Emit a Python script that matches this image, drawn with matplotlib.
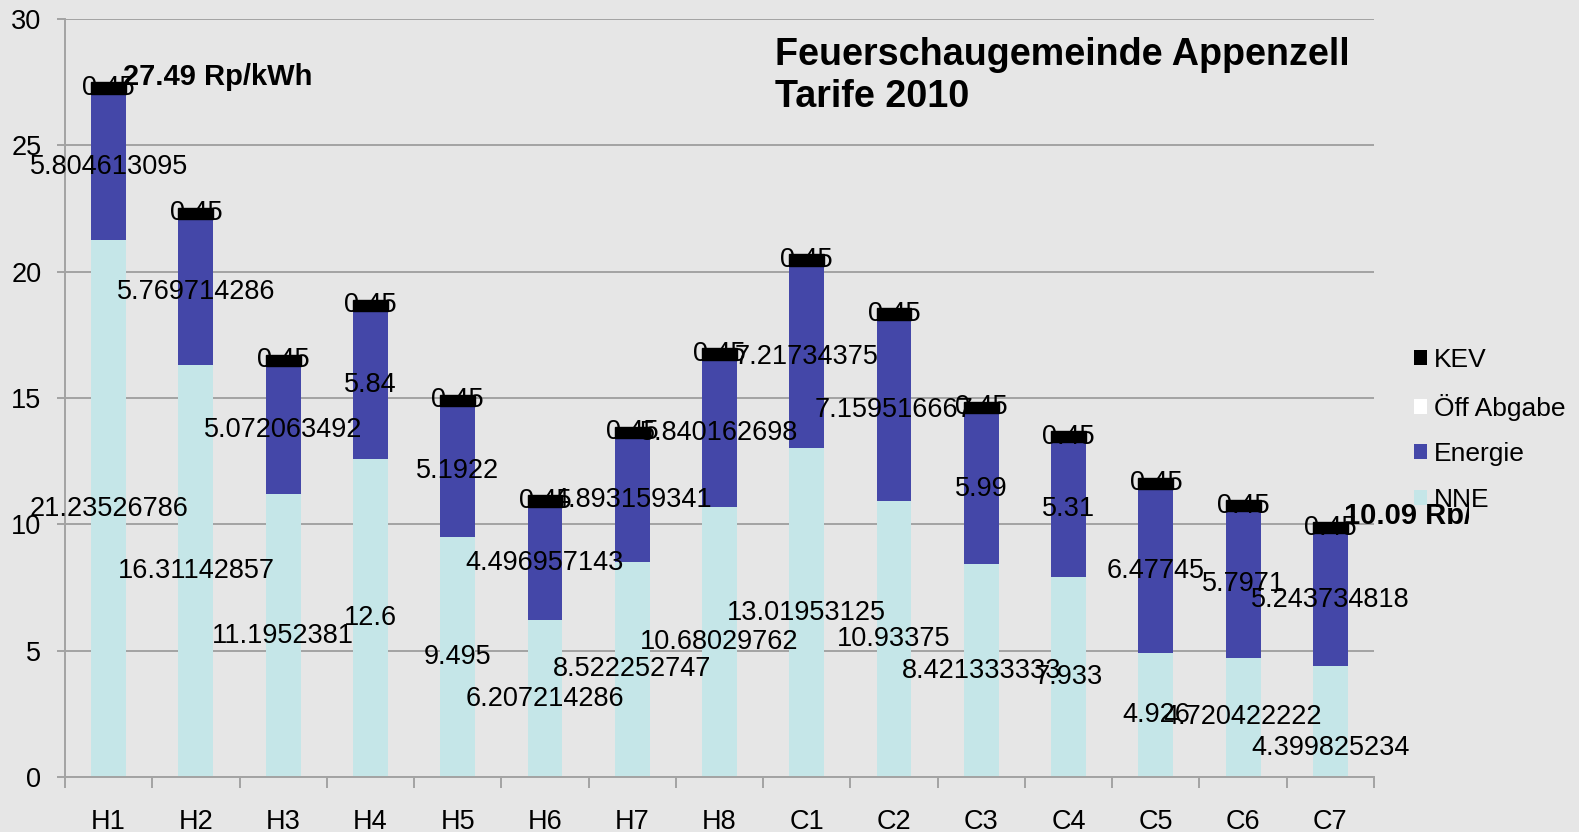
import numpy as np
import matplotlib
matplotlib.use('Agg')
import matplotlib.pyplot as plt
from matplotlib.patches import Patch
from matplotlib.transforms import Bbox, TransformedBbox

plt.rcParams['font.family'] = ['Liberation Sans', 'DejaVu Sans']

categories = ['H1', 'H2', 'H3', 'H4', 'H5', 'H6', 'H7', 'H8',
              'C1', 'C2', 'C3', 'C4', 'C5', 'C6', 'C7']
nne = [21.23526786, 16.31142857, 11.1952381, 12.6, 9.495, 6.207214286,
       8.522252747, 10.68029762, 13.01953125, 10.93375, 8.421333333,
       7.933, 4.926, 4.720422222, 4.399825234]
energie = [5.804613095, 5.769714286, 5.072063492, 5.84, 5.1922, 4.496957143,
           4.893159341, 5.840162698, 7.21734375, 7.159516667, 5.99,
           5.31, 6.47745, 5.7971, 5.243734818]
oeff = [0.0] * 15
kev = [0.45] * 15

BG = '#e6e6e6'
C_NNE = '#c5e6e8'
C_EN = '#4447a8'
GRID = '#a3a3a3'

fig = plt.figure(figsize=(15.79, 8.32), dpi=100, facecolor=BG)
ax = fig.add_axes([65/1579, 55/832, 1309/1579, 758/832])
ax.set_facecolor(BG)

x = np.arange(len(categories))
w = 0.4
nne = np.array(nne)
energie = np.array(energie)
oeff = np.array(oeff)
kev = np.array(kev)

series = [('NNE', nne, C_NNE), ('Energie', energie, C_EN),
          ('Öff Abgabe', oeff, 'white'), ('KEV', kev, 'black')]

bottom = np.zeros(len(x))
for name, vals, col in series:
    ec = 'black' if name == 'KEV' else col
    ax.bar(x, vals, w, bottom=bottom, color=col, edgecolor=ec,
           linewidth=1 if name == 'KEV' else 0, zorder=2)
    for i, v in enumerate(vals):
        if v == 0:
            continue
        dy = 0
        # Excel moved this one label down
        if name == 'NNE' and categories[i] == 'C7':
            dy = -19
        ax.annotate(f'{v:.10g}', (x[i], bottom[i] + v / 2), xytext=(0, dy),
                    textcoords='offset points', ha='center', va='center',
                    fontsize=19.5, color='black', zorder=3)
    bottom = bottom + vals

totals = bottom
for i in [int(np.argmax(totals)), int(np.argmin(totals))]:
    t = ax.annotate(f'{totals[i]:.2f} Rp/kWh', (x[i], totals[i]), xytext=(10, 4),
                    textcoords='offset points', ha='left', va='center',
                    fontsize=21, fontweight='bold', zorder=4, annotation_clip=False)
    if i == int(np.argmin(totals)):
        # the low total label is cut off in the original
        clip = TransformedBbox(Bbox.from_extents(1330/1579, 1 - 524/832, 1469/1579, 1 - 470/832),
                               fig.transFigure)
        t.set_clip_box(clip)
        t.set_clip_on(True)

ax.set_xlim(-0.5, len(x) - 0.5)
ax.set_ylim(0, 30)
ax.set_yticks(np.arange(0, 31, 5))
ax.yaxis.grid(True, color=GRID, linewidth=1.4)
ax.set_axisbelow(True)
ax.set_xticks(x)
ax.set_xticklabels(categories)
ax.set_xticks(np.arange(-0.5, len(x)), minor=True)
ax.tick_params(axis='x', which='major', length=0, pad=23, labelsize=19.5)
ax.tick_params(axis='x', which='minor', length=8, width=1.4, color=GRID)
ax.tick_params(axis='y', length=6, width=1.4, color=GRID, pad=11, labelsize=19.5)
for s in ['top', 'right']:
    ax.spines[s].set_visible(False)
for s in ['left', 'bottom']:
    ax.spines[s].set_color(GRID)
    ax.spines[s].set_linewidth(1.4)

fig.text(775/1579, 1 - 37/832, 'Feuerschaugemeinde Appenzell\nTarife 2010',
         ha='left', va='top', fontsize=27.2, fontweight='bold', linespacing=1.2)

handles = [Patch(facecolor=c, edgecolor='none', label=n)
           for n, _, c in reversed(series)]
fig.legend(handles=handles, loc='center left',
           bbox_to_anchor=(1414/1579, 1 - 430/832), frameon=False,
           fontsize=19, handlelength=0.5, handleheight=0.5,
           handletextpad=0.25, labelspacing=0.82, borderpad=0, borderaxespad=0)

fig.savefig('out.png', dpi=100, facecolor=BG)
